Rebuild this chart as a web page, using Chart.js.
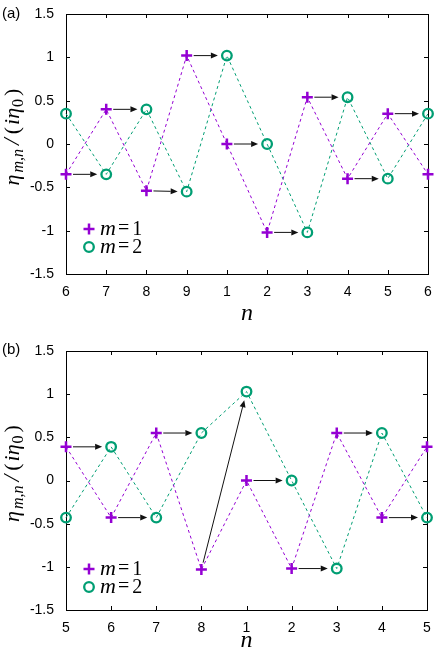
<!DOCTYPE html>
<html lang="en">
<head>
<meta charset="UTF-8">
<title>eta m,n</title>
<script src="https://cdn.jsdelivr.net/npm/chart.js"></script>
<style>
  body { margin: 0; background: #fff; }
  #wrap { position: relative; width: 436px; height: 653px; }
  .panel { position: absolute; left: 0; width: 436px; }
  #pa { top: 0; height: 326px; }
  #pb { top: 326px; height: 327px; }
</style>
</head>
<body>
<div id="wrap">
  <div class="panel" id="pa"><canvas id="chartA" width="436" height="326"></canvas></div>
  <div class="panel" id="pb"><canvas id="chartB" width="436" height="327"></canvas></div>
</div>
<script>
// panel (a)
const labelsA = ['6', '7', '8', '9', '1', '2', '3', '4', '5', '6'];
const m1A = [-0.35, 0.40, -0.54, 1.02, 0, -1.02, 0.54, -0.40, 0.35, -0.35];
const m2A = [0.35, -0.35, 0.40, -0.55, 1.02, 0, -1.02, 0.54, -0.40, 0.35];
// panel (b)
const labelsB = ['5', '6', '7', '8', '1', '2', '3', '4', '5'];
const m1B = [0.39, -0.43, 0.55, -1.03, 0, -1.02, 0.55, -0.43, 0.39];
const m2B = [-0.43, 0.39, -0.43, 0.55, 1.03, 0, -1.02, 0.55, -0.43];

const yMin = -1.5, yMax = 1.5, yStep = 0.5;
const PURPLE = '#9400d3';
const GREEN = '#009e73';
const SANS = '"Liberation Sans", Arial, sans-serif';
const SERIF = '"Liberation Serif", "Times New Roman", serif';

function drawPlus(ctx, x, y, r) {
  ctx.beginPath();
  ctx.moveTo(x - r, y); ctx.lineTo(x + r, y);
  ctx.moveTo(x, y - r); ctx.lineTo(x, y + r);
  ctx.stroke();
}

// frame + inward ticks on all four sides
const framePlugin = {
  id: 'frame',
  beforeDatasetsDraw(chart) {
    const ctx = chart.ctx, a = chart.chartArea;
    const xs = chart.scales.x, ys = chart.scales.y;
    ctx.save();
    ctx.strokeStyle = '#000';
    ctx.lineWidth = 1;
    const tl = 4;
    ctx.beginPath();
    for (let v = yMin; v <= yMax + 1e-9; v += yStep) {
      const py = Math.round(ys.getPixelForValue(v)) + 0.5;
      ctx.moveTo(a.left, py); ctx.lineTo(a.left + tl, py);
      ctx.moveTo(a.right, py); ctx.lineTo(a.right - tl, py);
    }
    for (let i = 0; i < chart.data.labels.length; i++) {
      const px = Math.round(xs.getPixelForValue(i)) + 0.5;
      ctx.moveTo(px, a.bottom); ctx.lineTo(px, a.bottom - tl);
      ctx.moveTo(px, a.top); ctx.lineTo(px, a.top + tl);
    }
    ctx.stroke();
    ctx.strokeRect(Math.round(a.left) + 0.5, Math.round(a.top) + 0.5,
      Math.round(a.right - a.left), Math.round(a.bottom - a.top));
    ctx.restore();
  }
};

// arrows from each m=1 point to the next m=2 point
const arrowPlugin = {
  id: 'arrows',
  afterDatasetsDraw(chart) {
    const ctx = chart.ctx;
    const xs = chart.scales.x, ys = chart.scales.y;
    const s1 = chart.data.datasets[0].data, s2 = chart.data.datasets[1].data;
    ctx.save();
    ctx.strokeStyle = '#111';
    ctx.fillStyle = '#111';
    ctx.lineWidth = 1;
    for (let i = 0; i < s1.length - 1; i++) {
      const x1 = xs.getPixelForValue(i), y1 = ys.getPixelForValue(s1[i]);
      const x2 = xs.getPixelForValue(i + 1), y2 = ys.getPixelForValue(s2[i + 1]);
      const d = Math.hypot(x2 - x1, y2 - y1);
      const ux = (x2 - x1) / d, uy = (y2 - y1) / d;
      const sx = x1 + ux * 7, sy = y1 + uy * 7;
      const ex = x2 - ux * 9, ey = y2 - uy * 9;
      const hl = 7, hw = 3;
      ctx.beginPath();
      ctx.moveTo(sx, sy);
      ctx.lineTo(ex - ux * hl, ey - uy * hl);
      ctx.stroke();
      ctx.beginPath();
      ctx.moveTo(ex, ey);
      ctx.lineTo(ex - ux * hl - uy * hw, ey - uy * hl + ux * hw);
      ctx.lineTo(ex - ux * hl + uy * hw, ey - uy * hl - ux * hw);
      ctx.closePath();
      ctx.fill();
    }
    ctx.restore();
  }
};

// y title, panel tag and legend
const textPlugin = {
  id: 'texts',
  afterDraw(chart, args, opts) {
    const ctx = chart.ctx, a = chart.chartArea;
    ctx.save();
    // panel tag
    ctx.fillStyle = '#000';
    ctx.font = '15px ' + SANS;
    ctx.textAlign = 'left';
    ctx.textBaseline = 'middle';
    ctx.fillText(opts.tag, 2, opts.tagY);

    // y axis title: eta_{m,n}/(i eta_0)
    const big = 22, small = 16;
    const parts = [
      ['η', 'italic ' + big + 'px ' + SERIF, 0, 2],
      ['m,n', 'italic ' + small + 'px ' + SERIF, 4, 4],
      ['/', 'italic ' + (big + 2) + 'px ' + SERIF, 0, 4],
      ['(', big + 'px ' + SERIF, 0, 2],
      ['iη', 'italic ' + big + 'px ' + SERIF, 0, 1],
      ['0', small + 'px ' + SERIF, 4, 3],
      [')', big + 'px ' + SERIF, 0, 0]
    ];
    let total = 0;
    parts.forEach(p => { ctx.font = p[1]; total += ctx.measureText(p[0]).width + p[3]; });
    const cy = (a.top + a.bottom) / 2 - 7;
    ctx.translate(19, cy);
    ctx.rotate(-Math.PI / 2);
    ctx.textBaseline = 'alphabetic';
    let x = -total / 2;
    parts.forEach(p => {
      ctx.font = p[1];
      ctx.fillText(p[0], x, p[2]);
      x += ctx.measureText(p[0]).width + p[3];
    });
    ctx.setTransform(1, 0, 0, 1, 0, 0);

    // legend
    const lx = a.left + 22;
    const rows = [[opts.legY1, '1', 0], [opts.legY2, '2', 1]];
    rows.forEach(r => {
      const y = a.bottom - r[0];
      if (r[2] === 0) {
        ctx.strokeStyle = PURPLE; ctx.lineWidth = 2.5;
        drawPlus(ctx, lx + 1, y, 5.5);
      } else {
        ctx.strokeStyle = GREEN; ctx.lineWidth = 2.3;
        ctx.beginPath(); ctx.arc(lx + 1, y, 4.8, 0, Math.PI * 2); ctx.stroke();
      }
      ctx.fillStyle = '#000';
      ctx.textBaseline = 'middle';
      let tx = lx + 12;
      ctx.font = 'italic 22px ' + SERIF;
      ctx.fillText('m', tx, y);
      tx += ctx.measureText('m').width + 2;
      ctx.font = '20px ' + SERIF;
      ctx.fillText('=', tx, y);
      tx += ctx.measureText('=').width + 3;
      ctx.fillText(r[1], tx, y + 1);
    });
    ctx.restore();
  }
};

function makeChart(id, labels, m1, m2, lay) {
  const ctx = document.getElementById(id).getContext('2d');
  return new Chart(ctx, {
    type: 'line',
    data: {
      labels: labels,
      datasets: [{
        label: 'm=1',
        data: m1,
        borderColor: PURPLE,
        borderWidth: 1,
        borderDash: [3, 3],
        pointStyle: 'cross',
        pointRadius: 5.5,
        pointBorderWidth: 2.5,
        pointBorderColor: PURPLE,
        pointBackgroundColor: PURPLE,
        tension: 0,
        fill: false,
        clip: false
      }, {
        label: 'm=2',
        data: m2,
        borderColor: GREEN,
        borderWidth: 1,
        borderDash: [3, 3],
        pointStyle: 'circle',
        pointRadius: 4.8,
        pointBorderWidth: 2.3,
        pointBorderColor: GREEN,
        pointBackgroundColor: 'rgba(0,0,0,0)',
        tension: 0,
        fill: false,
        clip: false
      }]
    },
    options: {
      responsive: false,
      animation: false,
      devicePixelRatio: 1,
      layout: { padding: { top: lay.top, right: lay.right, left: 0, bottom: 0 } },
      plugins: {
        legend: { display: false },
        tooltip: { enabled: false },
        texts: { tag: lay.tag, tagY: lay.tagY, legY1: lay.legY1, legY2: lay.legY2 }
      },
      scales: {
        x: {
          type: 'category',
          offset: false,
          grid: { display: false },
          border: { display: false },
          ticks: {
            autoSkip: false, maxRotation: 0, padding: 2,
            color: '#000', font: { family: SANS, size: 14 }
          },
          title: {
            display: true, text: 'n', color: '#000',
            font: { family: SERIF, style: 'italic', size: 24, lineHeight: 1 },
            padding: { top: lay.titlePad, bottom: 0 }
          },
          afterFit(s) { s.height = lay.xh; }
        },
        y: {
          min: yMin, max: yMax,
          grid: { display: false },
          border: { display: false },
          ticks: {
            stepSize: yStep, padding: 4, color: '#000',
            font: { family: SANS, size: 14 },
            callback: v => String(v)
          },
          afterFit(s) { s.width = 66; }
        }
      }
    },
    plugins: [framePlugin, arrowPlugin, textPlugin]
  });
}

makeChart('chartA', labelsA, m1A, m2A,
  { top: 14, right: 8, xh: 52, titlePad: 6, tag: '(a)', tagY: 14, legY1: 45, legY2: 27 });
makeChart('chartB', labelsB, m1B, m2B,
  { top: 25, right: 9, xh: 43, titlePad: 0, tag: '(b)', tagY: 24, legY1: 41, legY2: 23 });
</script>
</body>
</html>
